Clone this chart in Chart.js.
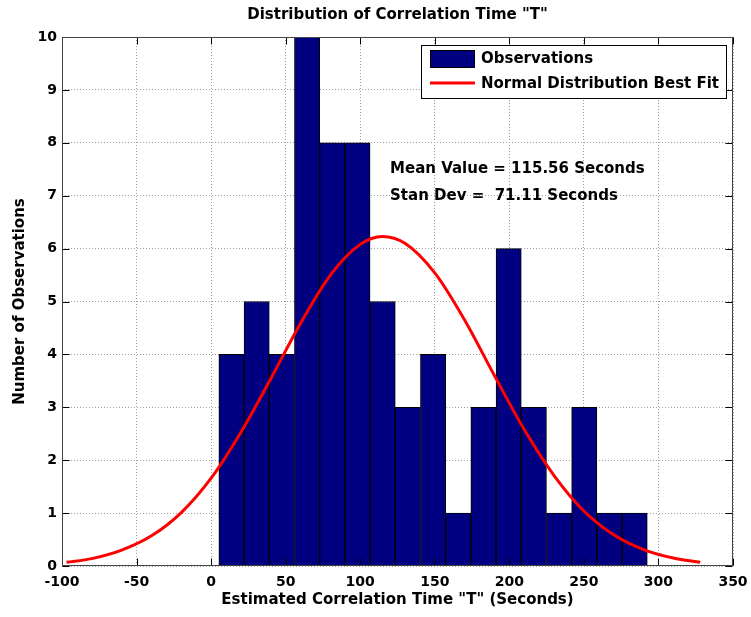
<!DOCTYPE html>
<html>
<head>
<meta charset="utf-8">
<script src="https://cdn.jsdelivr.net/npm/chart.js@4"></script>
<style>
    html, body { margin: 0; padding: 0; background: #ffffff; }
    #wrap { width: 751px; height: 617px; }
</style>
</head>
<body>
<div id="wrap"><canvas id="histChart" width="751" height="617"></canvas></div>
<script>
// ===== Data =====
const binCenters = [13.65, 30.55, 47.45, 64.35, 81.25, 98.15, 115.05, 131.95, 148.85, 165.75, 182.65, 199.55, 216.45, 233.35, 250.25, 267.15, 284.05];
const binCounts = [4, 5, 4, 10, 8, 8, 5, 3, 4, 1, 3, 6, 3, 1, 3, 1, 1];

// normal fit curve
const fitX = [-97, -80, -60, -40, -20, 0, 20, 40, 60, 80, 100, 115, 130, 150, 170, 190, 210, 230, 250, 270, 290, 310, 328];
const fitY = [0.07, 0.14, 0.30, 0.57, 1.01, 1.66, 2.53, 3.54, 4.59, 5.50, 6.08, 6.23, 6.10, 5.54, 4.65, 3.60, 2.58, 1.71, 1.04, 0.59, 0.31, 0.15, 0.07];

const xTicks = [-100, -50, 0, 50, 100, 150, 200, 250, 300, 350];
const yTicks = [0, 1, 2, 3, 4, 5, 6, 7, 8, 9, 10];

const chartTitle = 'Distribution of Correlation Time "T"';
const statLines = ['Mean Value = 115.56 Seconds', 'Stan Dev =  71.11 Seconds'];
const statX = [120, 120];
const statY = [7.5, 7.0];

const FONT = 'DejaVu Sans';

// ===== Plugins =====

// MATLAB style box with inward ticks on all four sides, plus title and stats text
const axesBox = {
    id: 'axesBox',
    afterDatasetsDraw(chart) {
        const { ctx, chartArea: a, scales: { x, y } } = chart;
        const L = Math.round(a.left) + 0.5, R = Math.round(a.right) - 0.5;
        const T = Math.round(a.top) + 0.5, B = Math.round(a.bottom) - 0.5;
        const tick = 7;
        ctx.save();
        ctx.strokeStyle = '#000000';
        ctx.lineWidth = 1;
        ctx.beginPath();
        xTicks.forEach(v => {
            const px = Math.round(x.getPixelForValue(v)) + 0.5;
            ctx.moveTo(px, B); ctx.lineTo(px, B - tick);
            ctx.moveTo(px, T); ctx.lineTo(px, T + tick);
        });
        yTicks.forEach(v => {
            const py = Math.round(y.getPixelForValue(v)) + 0.5;
            ctx.moveTo(L, py); ctx.lineTo(L + tick, py);
            ctx.moveTo(R, py); ctx.lineTo(R - tick, py);
        });
        ctx.stroke();
        ctx.strokeStyle = '#444444';
        ctx.strokeRect(L, T, R - L, B - T);

        ctx.fillStyle = '#000000';
        ctx.font = 'bold 15px "' + FONT + '"';
        ctx.textBaseline = 'middle';

        // title, centred over the axes
        ctx.textAlign = 'center';
        ctx.fillText(chartTitle, (a.left + a.right) / 2, 15);

        // stats text, placed in data coordinates
        ctx.textAlign = 'left';
        statLines.forEach((s, i) => {
            ctx.fillText(s, x.getPixelForValue(statX[i]), y.getPixelForValue(statY[i]));
        });
        ctx.restore();
    }
};

// legend box inside the axes, top right
const boxLegend = {
    id: 'boxLegend',
    afterDraw(chart) {
        const { ctx, chartArea: a } = chart;
        const sets = chart.data.datasets;
        ctx.save();
        ctx.font = 'bold 15px "' + FONT + '"';
        const textW = Math.max(...sets.map(d => ctx.measureText(d.label).width));
        const w = Math.round(9 + 45 + 6 + textW + 7);
        const h = 53;
        const right = Math.round(a.right) - 7;
        const left = right - w;
        const top = Math.round(a.top) + 8;
        ctx.fillStyle = '#ffffff';
        ctx.fillRect(left, top, w, h);
        ctx.strokeStyle = '#000000';
        ctx.lineWidth = 1;
        ctx.strokeRect(left + 0.5, top + 0.5, w, h);

        // bar swatch
        ctx.fillStyle = sets[0].backgroundColor;
        ctx.fillRect(left + 9, top + 5, 45, 18);
        ctx.strokeStyle = sets[0].borderColor;
        ctx.strokeRect(left + 9.5, top + 5.5, 44, 17);

        // line swatch
        ctx.strokeStyle = sets[1].borderColor;
        ctx.lineWidth = 3;
        ctx.beginPath();
        ctx.moveTo(left + 9, top + 38);
        ctx.lineTo(left + 54, top + 38);
        ctx.stroke();

        ctx.fillStyle = '#000000';
        ctx.textAlign = 'left';
        ctx.textBaseline = 'middle';
        ctx.fillText(sets[0].label, left + 60, top + 14);
        ctx.fillText(sets[1].label, left + 60, top + 39);
        ctx.restore();
    }
};

// ===== Chart =====
Chart.defaults.font.family = FONT;
Chart.defaults.font.weight = 'bold';
Chart.defaults.color = '#000000';

const ctx = document.getElementById('histChart');

new Chart(ctx, {
    type: 'bar',
    data: {
        datasets: [
            {
                type: 'bar',
                label: 'Observations',
                data: binCenters.map((c, i) => ({ x: c, y: binCounts[i] })),
                backgroundColor: '#000080',
                borderColor: '#000000',
                borderWidth: 1,
                borderSkipped: 'start',
                barPercentage: 1,
                categoryPercentage: 1,
                order: 2
            },
            {
                type: 'line',
                label: 'Normal Distribution Best Fit',
                data: fitX.map((v, i) => ({ x: v, y: fitY[i] })),
                borderColor: '#ff0000',
                borderWidth: 3,
                pointRadius: 0,
                fill: false,
                cubicInterpolationMode: 'monotone',
                order: 1
            }
        ]
    },
    options: {
        responsive: false,
        animation: false,
        layout: { padding: { left: 0, right: 18, top: 37, bottom: 0 } },
        plugins: {
            legend: { display: false },
            tooltip: { enabled: false },
            title: { display: false }
        },
        scales: {
            x: {
                type: 'linear',
                min: -100,
                max: 350,
                offset: false,
                afterBuildTicks: s => { s.ticks = xTicks.map(v => ({ value: v })); },
                afterFit: s => { s.height = 51; s.paddingLeft = 0; s.paddingRight = 0; },
                grid: { color: '#a0a0a0', borderDash: [1, 2], drawTicks: false, offset: false },
                border: { display: false, dash: [1, 2] },
                ticks: { padding: 8, font: { size: 14 }, maxRotation: 0 },
                title: {
                    display: true,
                    text: 'Estimated Correlation Time "T" (Seconds)',
                    font: { size: 15, weight: 'bold' },
                    padding: { top: 0, bottom: 8 }
                }
            },
            y: {
                min: 0,
                max: 10,
                afterBuildTicks: s => { s.ticks = yTicks.map(v => ({ value: v })); },
                afterFit: s => { s.width = 62; s.paddingTop = 0; s.paddingBottom = 0; },
                grid: { color: '#a0a0a0', borderDash: [1, 2], drawTicks: false },
                border: { display: false, dash: [1, 2] },
                ticks: { padding: 5, font: { size: 14 } },
                title: {
                    display: true,
                    text: 'Number of Observations',
                    font: { size: 15, weight: 'bold' },
                    padding: { top: 11, bottom: 0 }
                }
            }
        }
    },
    plugins: [axesBox, boxLegend]
});
</script>
</body>
</html>
